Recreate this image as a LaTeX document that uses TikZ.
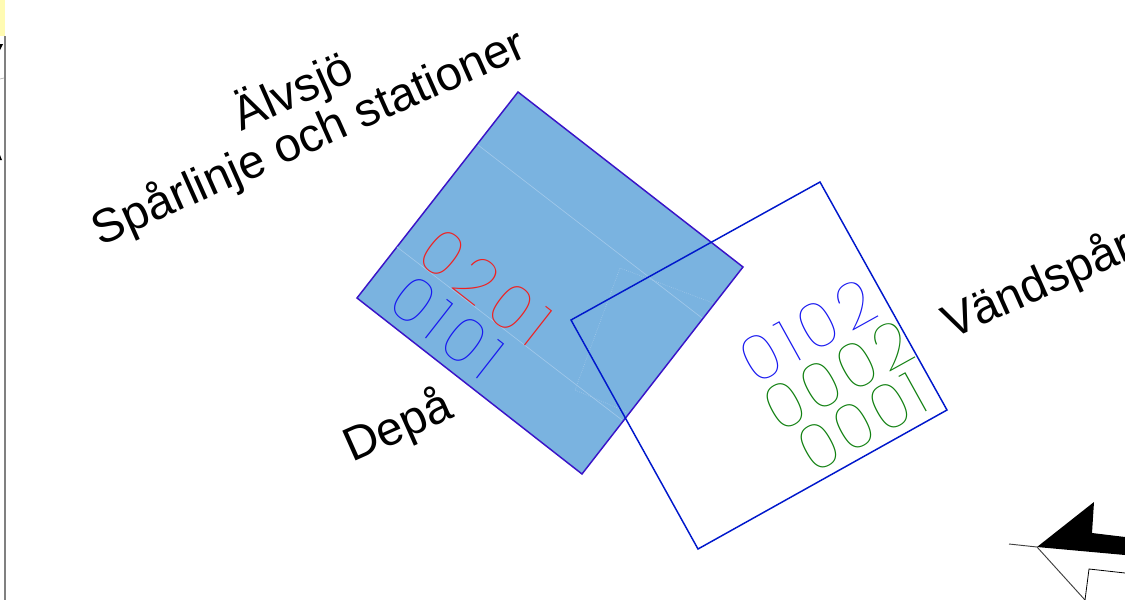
\documentclass[tikz,border=0pt]{standalone}
\usepackage{fontspec}
\setmainfont{Liberation Sans}
\newfontfamily\thinfont{Poppins Thin}
\definecolor{panelblue}{HTML}{7AB3E0}
\definecolor{edgepurple}{HTML}{3A14C8}
\definecolor{edgeblue}{HTML}{0018CC}
\definecolor{digitred}{HTML}{F02020}
\definecolor{digitblue}{HTML}{1818F0}
\definecolor{digitgreen}{HTML}{108010}
\definecolor{faintline}{HTML}{A0C8EA}
\begin{document}
\begin{tikzpicture}[x=0.75pt,y=-0.75pt,
  label/.style={font=\fontsize{35.5}{42}\selectfont,text=black,rotate=24,inner sep=0pt,align=center},
  digits/.style={font=\thinfont\fontsize{47}{50}\selectfont,inner sep=0pt},
  faint/.style={faintline,line width=0.5pt},
  faintdot/.style={faintline,line width=0.5pt,densely dotted}]
\useasboundingbox (0,0) rectangle (1125,600);
\fill[white] (0,0) rectangle (1125,600);
% left edge remnants
\fill[yellow!30] (0,0) rectangle (5,36);
\draw[gray,line width=1pt] (5,36) -- (5,600);
\fill[black] (0,44) -- (3,44) -- (0,50) -- cycle;
\fill[black] (0,155) -- (2,160) -- (0,160) -- cycle;
\draw[gray!60,line width=0.5pt] (0,79) -- (4,78);
% filled square
\filldraw[fill=panelblue,draw=edgepurple,line width=1.1pt,line join=miter]
  (518,92) -- (743,267) -- (582,474) -- (357,298) -- cycle;
\draw[faint] (478,145) -- (702,318);
\draw[faint] (397,247) -- (622,420);
\draw[faintdot] (713,303) -- (620,268) -- (575,390) -- (627,412);
% outline square
\draw[edgeblue,line width=1.1pt] (820,182) -- (947,410) -- (698,549) -- (571,320) -- cycle;
% labels
\node[label] (alv) at (293,92) {Älvsjö};
\node[label] (spar) at (309,138) {Spårlinje och stationer};
\node[label] (depa) at (398,427) {Depå};
\node[label,anchor=west] (vand) at (945,327) {Vändspår};
% digit labels
\node[digits,text=digitred,rotate=-38] (d0201) at (486,287) {\addfontfeature{LetterSpace=12}0201};
\node[digits,text=digitblue,rotate=-38] (d0101) at (447,327) {\addfontfeature{LetterSpace=11}0101};
\node[digits,text=digitblue,rotate=29] (d0102) at (808,331) {\addfontfeature{LetterSpace=11}0102};
\node[digits,text=digitgreen,rotate=29] (d0002) at (838,376) {\addfontfeature{LetterSpace=7}0002};
\node[digits,text=digitgreen,rotate=29] (d0001) at (862,422) {\addfontfeature{LetterSpace=6}0001};
% north arrow
\fill[black] (1037,547) -- (1094,502) -- (1092,533) -- (1125,537) -- (1125,555) -- cycle;
\draw[black!75,line width=0.7pt] (1009,544) -- (1037,547) -- (1085,600);
\draw[black,line width=0.6pt] (1085,600) -- (1089,569) -- (1125,573);
\end{tikzpicture}
\end{document}
